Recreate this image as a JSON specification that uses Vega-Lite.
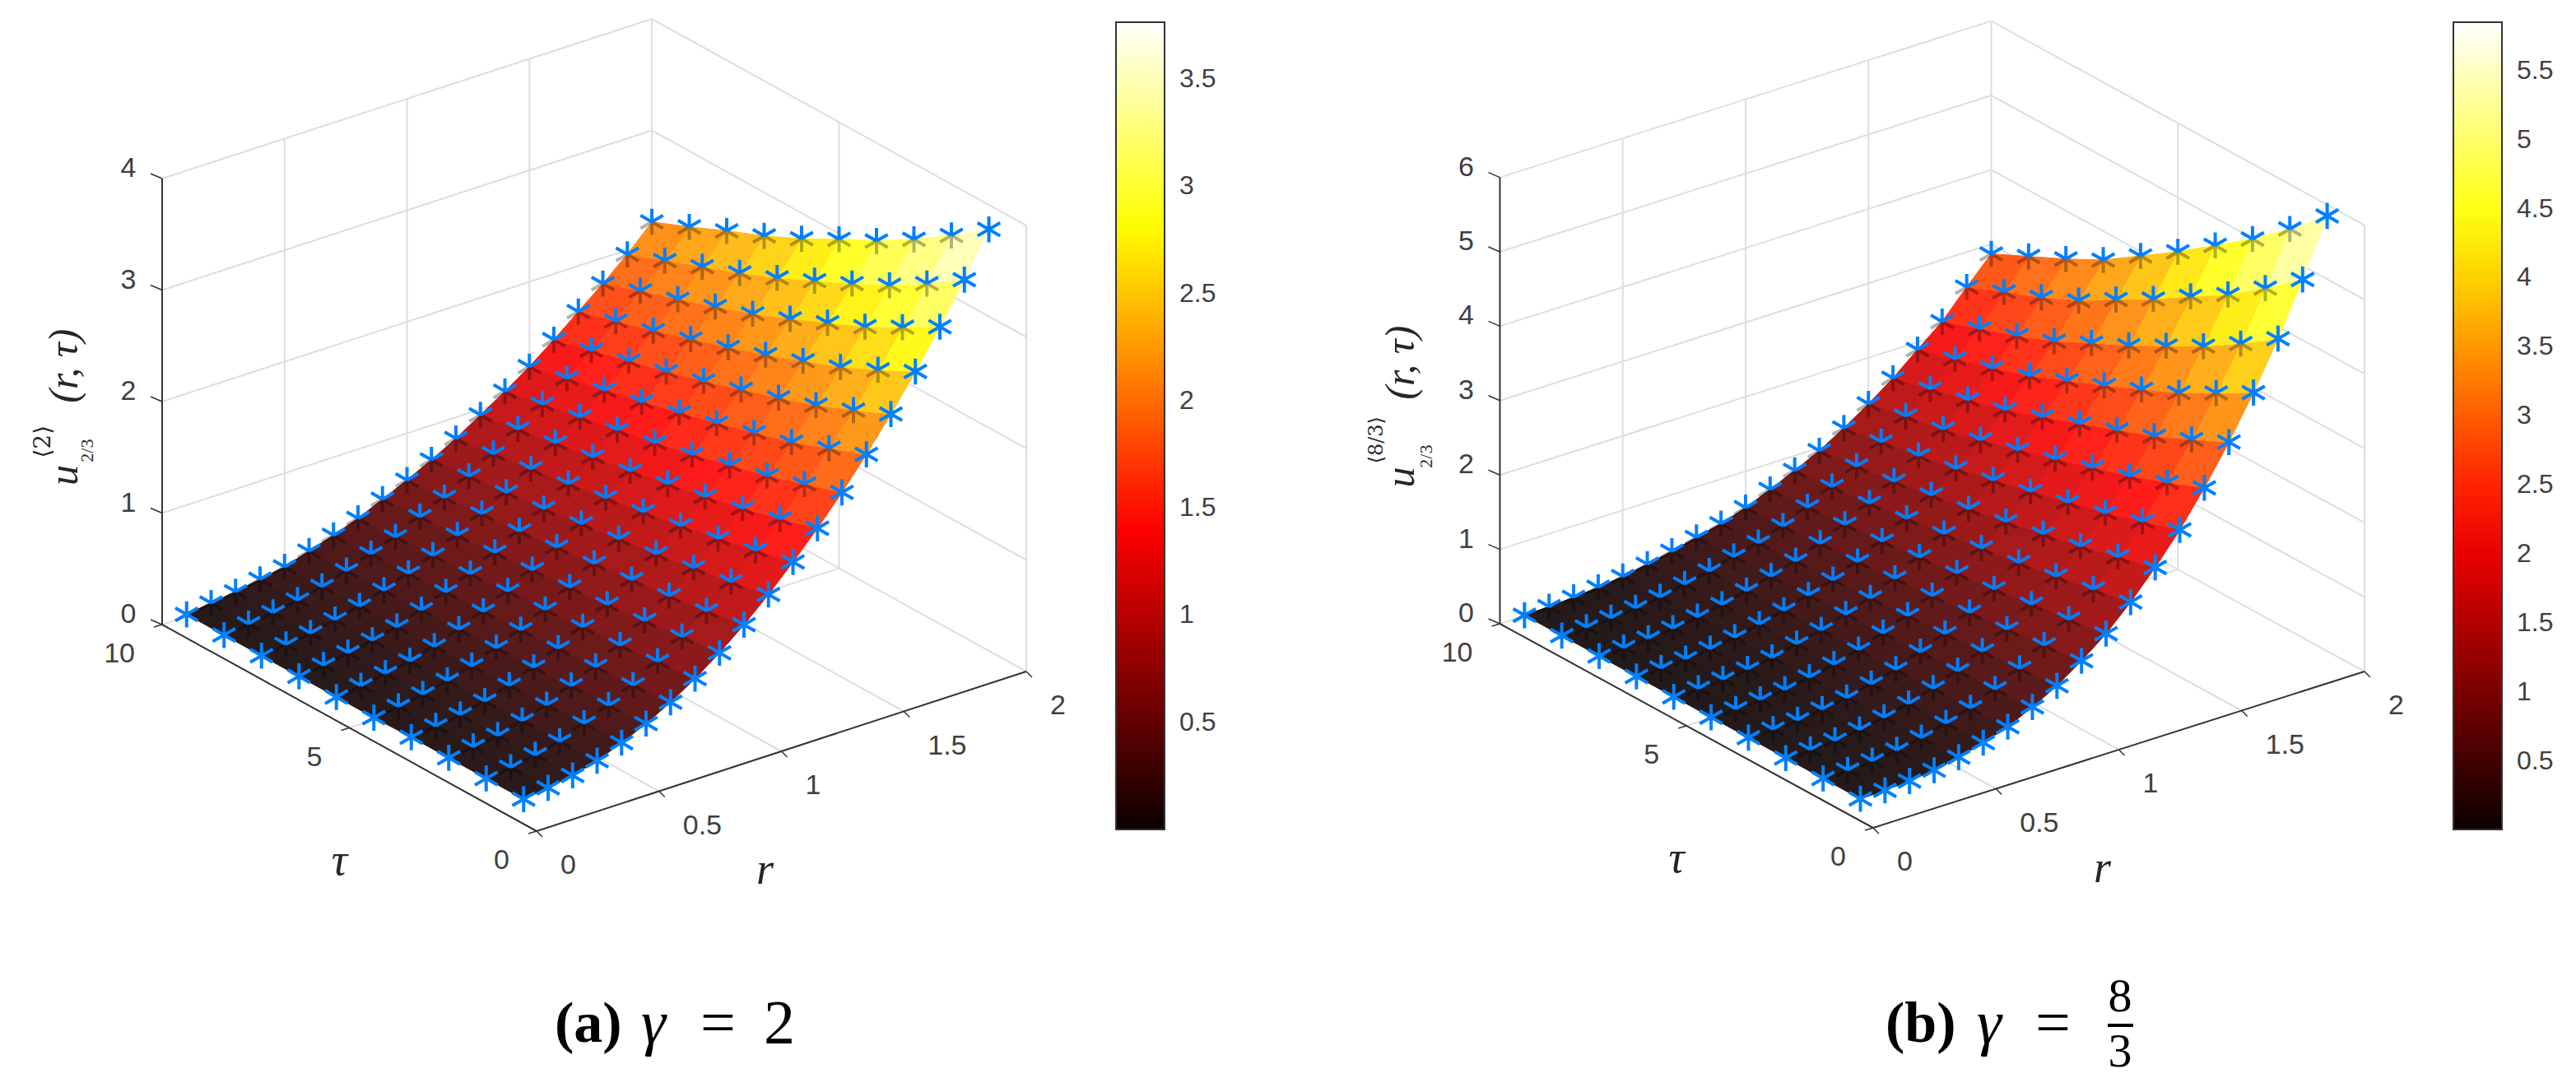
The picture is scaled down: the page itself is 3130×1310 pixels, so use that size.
{"$schema":"https://vega.github.io/schema/vega-lite/v6.json","padding":0,"spacing":0,"background":"white","config":{"view":{"stroke":null}},"resolve":{"scale":{"fill":"independent","stroke":"independent"},"legend":{"fill":"independent"}},"hconcat":[
{"width":1565,"height":1310,
"data":{"values":[
{"r":0.1,"t":1,"u":0.03},{"r":0.1,"t":2,"u":0.03},{"r":0.1,"t":3,"u":0.03},{"r":0.1,"t":4,"u":0.03},{"r":0.1,"t":5,"u":0.02},{"r":0.1,"t":6,"u":0.02},{"r":0.1,"t":7,"u":0.02},{"r":0.1,"t":8,"u":0.02},{"r":0.1,"t":9,"u":0.02},{"r":0.1,"t":10,"u":0.02},
{"r":0.2,"t":1,"u":0.06},{"r":0.2,"t":2,"u":0.06},{"r":0.2,"t":3,"u":0.06},{"r":0.2,"t":4,"u":0.06},{"r":0.2,"t":5,"u":0.05},{"r":0.2,"t":6,"u":0.05},{"r":0.2,"t":7,"u":0.05},{"r":0.2,"t":8,"u":0.05},{"r":0.2,"t":9,"u":0.05},{"r":0.2,"t":10,"u":0.05},
{"r":0.3,"t":1,"u":0.1},{"r":0.3,"t":2,"u":0.1},{"r":0.3,"t":3,"u":0.09},{"r":0.3,"t":4,"u":0.09},{"r":0.3,"t":5,"u":0.09},{"r":0.3,"t":6,"u":0.09},{"r":0.3,"t":7,"u":0.09},{"r":0.3,"t":8,"u":0.08},{"r":0.3,"t":9,"u":0.08},{"r":0.3,"t":10,"u":0.08},
{"r":0.4,"t":1,"u":0.16},{"r":0.4,"t":2,"u":0.15},{"r":0.4,"t":3,"u":0.15},{"r":0.4,"t":4,"u":0.14},{"r":0.4,"t":5,"u":0.14},{"r":0.4,"t":6,"u":0.13},{"r":0.4,"t":7,"u":0.13},{"r":0.4,"t":8,"u":0.13},{"r":0.4,"t":9,"u":0.12},{"r":0.4,"t":10,"u":0.12},
{"r":0.5,"t":1,"u":0.25},{"r":0.5,"t":2,"u":0.24},{"r":0.5,"t":3,"u":0.22},{"r":0.5,"t":4,"u":0.21},{"r":0.5,"t":5,"u":0.2},{"r":0.5,"t":6,"u":0.19},{"r":0.5,"t":7,"u":0.18},{"r":0.5,"t":8,"u":0.18},{"r":0.5,"t":9,"u":0.17},{"r":0.5,"t":10,"u":0.16},
{"r":0.6,"t":1,"u":0.35},{"r":0.6,"t":2,"u":0.33},{"r":0.6,"t":3,"u":0.32},{"r":0.6,"t":4,"u":0.3},{"r":0.6,"t":5,"u":0.29},{"r":0.6,"t":6,"u":0.27},{"r":0.6,"t":7,"u":0.26},{"r":0.6,"t":8,"u":0.25},{"r":0.6,"t":9,"u":0.24},{"r":0.6,"t":10,"u":0.23},
{"r":0.7,"t":1,"u":0.47},{"r":0.7,"t":2,"u":0.44},{"r":0.7,"t":3,"u":0.42},{"r":0.7,"t":4,"u":0.4},{"r":0.7,"t":5,"u":0.38},{"r":0.7,"t":6,"u":0.36},{"r":0.7,"t":7,"u":0.35},{"r":0.7,"t":8,"u":0.33},{"r":0.7,"t":9,"u":0.32},{"r":0.7,"t":10,"u":0.3},
{"r":0.8,"t":1,"u":0.61},{"r":0.8,"t":2,"u":0.58},{"r":0.8,"t":3,"u":0.54},{"r":0.8,"t":4,"u":0.52},{"r":0.8,"t":5,"u":0.49},{"r":0.8,"t":6,"u":0.47},{"r":0.8,"t":7,"u":0.44},{"r":0.8,"t":8,"u":0.42},{"r":0.8,"t":9,"u":0.4},{"r":0.8,"t":10,"u":0.38},
{"r":0.9,"t":1,"u":0.77},{"r":0.9,"t":2,"u":0.73},{"r":0.9,"t":3,"u":0.69},{"r":0.9,"t":4,"u":0.65},{"r":0.9,"t":5,"u":0.62},{"r":0.9,"t":6,"u":0.59},{"r":0.9,"t":7,"u":0.56},{"r":0.9,"t":8,"u":0.53},{"r":0.9,"t":9,"u":0.51},{"r":0.9,"t":10,"u":0.48},
{"r":1.0,"t":1,"u":0.95},{"r":1.0,"t":2,"u":0.89},{"r":1.0,"t":3,"u":0.84},{"r":1.0,"t":4,"u":0.8},{"r":1.0,"t":5,"u":0.76},{"r":1.0,"t":6,"u":0.72},{"r":1.0,"t":7,"u":0.68},{"r":1.0,"t":8,"u":0.65},{"r":1.0,"t":9,"u":0.61},{"r":1.0,"t":10,"u":0.58},
{"r":1.1,"t":1,"u":1.15},{"r":1.1,"t":2,"u":1.08},{"r":1.1,"t":3,"u":1.02},{"r":1.1,"t":4,"u":0.96},{"r":1.1,"t":5,"u":0.91},{"r":1.1,"t":6,"u":0.86},{"r":1.1,"t":7,"u":0.81},{"r":1.1,"t":8,"u":0.77},{"r":1.1,"t":9,"u":0.73},{"r":1.1,"t":10,"u":0.69},
{"r":1.2,"t":1,"u":1.37},{"r":1.2,"t":2,"u":1.29},{"r":1.2,"t":3,"u":1.21},{"r":1.2,"t":4,"u":1.14},{"r":1.2,"t":5,"u":1.08},{"r":1.2,"t":6,"u":1.02},{"r":1.2,"t":7,"u":0.96},{"r":1.2,"t":8,"u":0.91},{"r":1.2,"t":9,"u":0.86},{"r":1.2,"t":10,"u":0.81},
{"r":1.3,"t":1,"u":1.6},{"r":1.3,"t":2,"u":1.5},{"r":1.3,"t":3,"u":1.41},{"r":1.3,"t":4,"u":1.33},{"r":1.3,"t":5,"u":1.26},{"r":1.3,"t":6,"u":1.19},{"r":1.3,"t":7,"u":1.13},{"r":1.3,"t":8,"u":1.07},{"r":1.3,"t":9,"u":1.01},{"r":1.3,"t":10,"u":0.95},
{"r":1.4,"t":1,"u":1.85},{"r":1.4,"t":2,"u":1.74},{"r":1.4,"t":3,"u":1.63},{"r":1.4,"t":4,"u":1.54},{"r":1.4,"t":5,"u":1.45},{"r":1.4,"t":6,"u":1.37},{"r":1.4,"t":7,"u":1.3},{"r":1.4,"t":8,"u":1.23},{"r":1.4,"t":9,"u":1.16},{"r":1.4,"t":10,"u":1.09},
{"r":1.5,"t":1,"u":2.12},{"r":1.5,"t":2,"u":1.99},{"r":1.5,"t":3,"u":1.86},{"r":1.5,"t":4,"u":1.76},{"r":1.5,"t":5,"u":1.66},{"r":1.5,"t":6,"u":1.57},{"r":1.5,"t":7,"u":1.48},{"r":1.5,"t":8,"u":1.4},{"r":1.5,"t":9,"u":1.32},{"r":1.5,"t":10,"u":1.24},
{"r":1.6,"t":1,"u":2.41},{"r":1.6,"t":2,"u":2.26},{"r":1.6,"t":3,"u":2.12},{"r":1.6,"t":4,"u":2.0},{"r":1.6,"t":5,"u":1.89},{"r":1.6,"t":6,"u":1.78},{"r":1.6,"t":7,"u":1.68},{"r":1.6,"t":8,"u":1.59},{"r":1.6,"t":9,"u":1.5},{"r":1.6,"t":10,"u":1.41},
{"r":1.7,"t":1,"u":2.72},{"r":1.7,"t":2,"u":2.55},{"r":1.7,"t":3,"u":2.39},{"r":1.7,"t":4,"u":2.26},{"r":1.7,"t":5,"u":2.13},{"r":1.7,"t":6,"u":2.01},{"r":1.7,"t":7,"u":1.9},{"r":1.7,"t":8,"u":1.79},{"r":1.7,"t":9,"u":1.69},{"r":1.7,"t":10,"u":1.59},
{"r":1.8,"t":1,"u":3.05},{"r":1.8,"t":2,"u":2.86},{"r":1.8,"t":3,"u":2.68},{"r":1.8,"t":4,"u":2.53},{"r":1.8,"t":5,"u":2.38},{"r":1.8,"t":6,"u":2.24},{"r":1.8,"t":7,"u":2.12},{"r":1.8,"t":8,"u":2.0},{"r":1.8,"t":9,"u":1.89},{"r":1.8,"t":10,"u":1.77},
{"r":1.9,"t":1,"u":3.4},{"r":1.9,"t":2,"u":3.18},{"r":1.9,"t":3,"u":2.98},{"r":1.9,"t":4,"u":2.81},{"r":1.9,"t":5,"u":2.65},{"r":1.9,"t":6,"u":2.49},{"r":1.9,"t":7,"u":2.35},{"r":1.9,"t":8,"u":2.22},{"r":1.9,"t":9,"u":2.09},{"r":1.9,"t":10,"u":1.96},
{"r":2.0,"t":1,"u":3.78},{"r":2.0,"t":2,"u":3.54},{"r":2.0,"t":3,"u":3.32},{"r":2.0,"t":4,"u":3.12},{"r":2.0,"t":5,"u":2.95},{"r":2.0,"t":6,"u":2.77},{"r":2.0,"t":7,"u":2.61},{"r":2.0,"t":8,"u":2.47},{"r":2.0,"t":9,"u":2.32},{"r":2.0,"t":10,"u":2.18},
{"k":"g","g":1,"r":0.5,"t":10,"u":0},{"k":"g","g":1,"r":0.5,"t":10,"u":4},{"k":"g","g":2,"r":1,"t":10,"u":0},{"k":"g","g":2,"r":1,"t":10,"u":4},{"k":"g","g":3,"r":1.5,"t":10,"u":0},{"k":"g","g":3,"r":1.5,"t":10,"u":4},{"k":"g","g":4,"r":2,"t":10,"u":0},{"k":"g","g":4,"r":2,"t":10,"u":4},
{"k":"g","g":5,"r":2,"t":0,"u":0},{"k":"g","g":5,"r":2,"t":0,"u":4},{"k":"g","g":6,"r":2,"t":5,"u":0},{"k":"g","g":6,"r":2,"t":5,"u":4},
{"k":"g","g":7,"r":0,"t":10,"u":1},{"k":"g","g":7,"r":2,"t":10,"u":1},{"k":"g","g":8,"r":0,"t":10,"u":2},{"k":"g","g":8,"r":2,"t":10,"u":2},{"k":"g","g":9,"r":0,"t":10,"u":3},{"k":"g","g":9,"r":2,"t":10,"u":3},{"k":"g","g":10,"r":0,"t":10,"u":4},{"k":"g","g":10,"r":2,"t":10,"u":4},
{"k":"g","g":11,"r":2,"t":0,"u":1},{"k":"g","g":11,"r":2,"t":10,"u":1},{"k":"g","g":12,"r":2,"t":0,"u":2},{"k":"g","g":12,"r":2,"t":10,"u":2},{"k":"g","g":13,"r":2,"t":0,"u":3},{"k":"g","g":13,"r":2,"t":10,"u":3},{"k":"g","g":14,"r":2,"t":0,"u":4},{"k":"g","g":14,"r":2,"t":10,"u":4},
{"k":"g","g":15,"r":0.5,"t":0,"u":0},{"k":"g","g":15,"r":0.5,"t":10,"u":0},{"k":"g","g":16,"r":1,"t":0,"u":0},{"k":"g","g":16,"r":1,"t":10,"u":0},{"k":"g","g":17,"r":1.5,"t":0,"u":0},{"k":"g","g":17,"r":1.5,"t":10,"u":0},{"k":"g","g":18,"r":2,"t":0,"u":0},{"k":"g","g":18,"r":2,"t":10,"u":0},{"k":"g","g":19,"r":0,"t":5,"u":0},{"k":"g","g":19,"r":2,"t":5,"u":0},{"k":"g","g":20,"r":0,"t":10,"u":0},{"k":"g","g":20,"r":2,"t":10,"u":0},
{"k":"a","g":1,"r":0,"t":0,"u":0},{"k":"a","g":1,"r":2,"t":0,"u":0},{"k":"a","g":2,"r":0,"t":0,"u":0},{"k":"a","g":2,"r":0,"t":10,"u":0},{"k":"a","g":3,"r":0,"t":10,"u":0},{"k":"a","g":3,"r":0,"t":10,"u":4},
{"k":"lr","r":0,"t":0,"u":0,"label":"0"},{"k":"lr","r":0.5,"t":0,"u":0,"label":"0.5"},{"k":"lr","r":1,"t":0,"u":0,"label":"1"},{"k":"lr","r":1.5,"t":0,"u":0,"label":"1.5"},{"k":"lr","r":2,"t":0,"u":0,"label":"2"},
{"k":"lt","r":0,"t":0,"u":0,"label":"0"},{"k":"lt","r":0,"t":5,"u":0,"label":"5"},{"k":"lt","r":0,"t":10,"u":0,"label":"10"},
{"k":"lz","r":0,"t":10,"u":0,"label":"0"},{"k":"lz","r":0,"t":10,"u":1,"label":"1"},{"k":"lz","r":0,"t":10,"u":2,"label":"2"},{"k":"lz","r":0,"t":10,"u":3,"label":"3"},{"k":"lz","r":0,"t":10,"u":4,"label":"4"},
{"k":"cb","u":0.5},{"k":"cb","u":1},{"k":"cb","u":1.5},{"k":"cb","u":2},{"k":"cb","u":2.5},{"k":"cb","u":3},{"k":"cb","u":3.5},
{"k":"tr","r":1,"t":0,"u":0,"label":"r"},{"k":"tt","r":0,"t":5,"u":0,"label":"τ"},
{"k":"y1","r":0,"t":10,"u":1.34,"label":"u"},{"k":"y1","r":0,"t":10,"u":2.32,"label":"(r,  τ)"},{"k":"y2","r":0,"t":10,"u":1.64,"label":"⟨2⟩"},{"k":"y3","r":0,"t":10,"u":1.56,"label":"2/3"}
]},
"transform":[{"calculate":"652+297.5*datum.r-45.5*datum.t","as":"px"},{"calculate":"1010-97*datum.r-25.1*datum.t-135.5*datum.u","as":"py"}],
"encoding":{"x":{"field":"px","type":"quantitative","axis":null,"scale":{"domain":[0,1565],"nice":false,"zero":false}},"y":{"field":"py","type":"quantitative","axis":null,"scale":{"domain":[1310,0],"nice":false,"zero":false}}},
"layer":[
{"transform":[{"filter":"datum.k=='g'"}],"mark":{"type":"line","stroke":"#dedede","strokeWidth":2},"encoding":{"detail":{"field":"g"}}},
{"transform":[{"filter":"datum.k=='a'"}],"mark":{"type":"line","stroke":"#333333","strokeWidth":2},"encoding":{"detail":{"field":"g"}}},
{"transform":[{"filter":"datum.k=='lr'||datum.k=='lt'||datum.k=='lz'"},{"calculate":"datum.px+(datum.k=='lz'?-14:datum.k=='lr'?7:-10)","as":"x2"},{"calculate":"datum.py+(datum.k=='lz'?-6:datum.k=='lr'?7:3)","as":"y2"}],"mark":{"type":"rule","stroke":"#333333","strokeWidth":1.5},"encoding":{"x2":{"field":"x2"},"y2":{"field":"y2"}}},
{"transform":[{"filter":"!datum.k"},{"calculate":"round(datum.r*10)","as":"i"},{"calculate":"[datum.i*100+datum.t,(datum.i-1)*100+datum.t,(datum.i-1)*100+datum.t-1,datum.i*100+datum.t-1]","as":"cell"},{"calculate":"[0,1,2,3]","as":"o"},{"flatten":["cell","o"]},{"filter":"datum.cell>=101&&datum.cell<2000&&datum.cell%100>=1&&datum.cell%100<=9"},{"joinaggregate":[{"op":"mean","field":"u","as":"cu"}],"groupby":["cell"]}],
"layer":[
{"mark":{"type":"line","strokeWidth":1,"interpolate":"linear-closed"},"encoding":{"detail":{"field":"cell"},"order":{"field":"o"},"fill":{"field":"cu","type":"quantitative","scale":{"domain":[0,1.41,2.82,3.765],"range":["#0b0000","#ff0000","#ffff00","#ffffff"],"interpolate":"rgb"},"legend":{"type":"gradient","title":null,"orient":"none","legendX":1356,"legendY":27,"gradientLength":981,"gradientThickness":59,"gradientStrokeColor":"#333333","gradientStrokeWidth":2,"labelFont":"Liberation Sans","labelFontSize":32,"labelColor":"#404040","labelOffset":18,"labelOverlap":false,"values":[0.5,1,1.5,2,2.5,3,3.5],"labelExpr":"''+datum.value"}},"stroke":{"field":"cu","type":"quantitative","scale":{"domain":[0,1.41,2.82,3.7651],"range":["#0b0000","#ff0000","#ffff00","#ffffff"],"interpolate":"rgb"},"legend":null}}},
{"mark":{"type":"line","fill":"#ffffff","fillOpacity":0.1,"strokeWidth":0,"interpolate":"linear-closed"},"encoding":{"detail":{"field":"cell"},"order":{"field":"o"}}}
]},
{"transform":[{"filter":"!datum.k&&(datum.r==0.1||datum.t==1)"}],"mark":{"type":"point","shape":"M0,-1L0,1M-0.87,-0.5L0.87,0.5M-0.87,0.5L0.87,-0.5","size":1000,"filled":false,"stroke":"#007fff","strokeWidth":4,"opacity":1}},
{"transform":[{"filter":"!datum.k&&datum.r!=0.1&&datum.t!=1"}],"mark":{"type":"point","shape":"M0,0L0,1M0,0L-0.87,0.5M0,0L0.87,0.5","size":1000,"filled":false,"stroke":"#000000","strokeWidth":4,"opacity":0.3}},
{"transform":[{"filter":"!datum.k&&datum.r!=0.1&&datum.t!=1"}],"mark":{"type":"point","shape":"M0,0L0,-1M0,0L-0.87,-0.5M0,0L0.87,-0.5","size":1000,"filled":false,"stroke":"#007fff","strokeWidth":4,"opacity":1}},
{"transform":[{"filter":"datum.k=='cb'"},{"calculate":"1415","as":"px"},{"calculate":"27+(3.765-datum.u)/3.765*981","as":"py"},{"calculate":"1407","as":"x2"}],"mark":{"type":"rule","stroke":"#333333","strokeWidth":2},"encoding":{"x2":{"field":"x2"}}},
{"transform":[{"filter":"datum.k=='lr'"}],"mark":{"type":"text","font":"Liberation Sans","fontSize":34,"fill":"#404040","align":"left","baseline":"middle","dx":29,"dy":42},"encoding":{"text":{"field":"label"}}},
{"transform":[{"filter":"datum.k=='lt'"}],"mark":{"type":"text","font":"Liberation Sans","fontSize":34,"fill":"#404040","align":"right","baseline":"middle","dx":-33,"dy":36},"encoding":{"text":{"field":"label"}}},
{"transform":[{"filter":"datum.k=='lz'"}],"mark":{"type":"text","font":"Liberation Sans","fontSize":34,"fill":"#404040","align":"center","baseline":"middle","dx":-41,"dy":-12},"encoding":{"text":{"field":"label"}}},
{"transform":[{"filter":"datum.k=='tr'"}],"mark":{"type":"text","font":"Liberation Serif","fontStyle":"italic","fontSize":54,"fill":"#262626","align":"center","baseline":"middle","dx":-20,"dy":145},"encoding":{"text":{"field":"label"}}},
{"transform":[{"filter":"datum.k=='tt'"}],"mark":{"type":"text","font":"Liberation Serif","fontStyle":"italic","fontSize":54,"fill":"#262626","align":"center","baseline":"middle","dx":-12,"dy":162},"encoding":{"text":{"field":"label"}}},
{"transform":[{"filter":"datum.k=='y1'"}],"mark":{"type":"text","font":"Liberation Serif","fontStyle":"italic","fontSize":50,"fill":"#262626","align":"center","baseline":"middle","angle":270,"dy":-118},"encoding":{"text":{"field":"label"}}},
{"transform":[{"filter":"datum.k=='y2'"}],"mark":{"type":"text","font":"DejaVu Serif","fontSize":28,"fill":"#262626","align":"center","baseline":"middle","angle":270,"dy":-144},"encoding":{"text":{"field":"label"}}},
{"transform":[{"filter":"datum.k=='y3'"}],"mark":{"type":"text","font":"Liberation Serif","fontSize":22,"fill":"#262626","align":"center","baseline":"middle","angle":270,"dy":-91},"encoding":{"text":{"field":"label"}}},
{"data":{"values":[{}]},"mark":{"type":"text","text":"(a)","x":674,"y":1245,"font":"Liberation Serif","fontWeight":"bold","fontSize":70,"fill":"#000000","align":"left","baseline":"middle"},"encoding":{"x":null,"y":null}},
{"data":{"values":[{}]},"mark":{"type":"text","text":"γ","x":779,"y":1245,"font":"Liberation Serif","fontStyle":"italic","fontSize":76,"fill":"#000000","align":"left","baseline":"middle"},"encoding":{"x":null,"y":null}},
{"data":{"values":[{}]},"mark":{"type":"text","text":"=","x":851,"y":1245,"font":"Liberation Serif","fontSize":76,"fill":"#000000","align":"left","baseline":"middle"},"encoding":{"x":null,"y":null}},
{"data":{"values":[{}]},"mark":{"type":"text","text":"2","x":928,"y":1245,"font":"Liberation Serif","fontSize":76,"fill":"#000000","align":"left","baseline":"middle"},"encoding":{"x":null,"y":null}}
]},
{"width":1565,"height":1310,
"data":{"values":[
{"r":0.1,"t":1,"u":0.01},{"r":0.1,"t":2,"u":0.01},{"r":0.1,"t":3,"u":0.01},{"r":0.1,"t":4,"u":0.01},{"r":0.1,"t":5,"u":0.01},{"r":0.1,"t":6,"u":0.01},{"r":0.1,"t":7,"u":0.01},{"r":0.1,"t":8,"u":0.01},{"r":0.1,"t":9,"u":0.01},{"r":0.1,"t":10,"u":0.01},
{"r":0.2,"t":1,"u":0.02},{"r":0.2,"t":2,"u":0.02},{"r":0.2,"t":3,"u":0.02},{"r":0.2,"t":4,"u":0.02},{"r":0.2,"t":5,"u":0.02},{"r":0.2,"t":6,"u":0.02},{"r":0.2,"t":7,"u":0.02},{"r":0.2,"t":8,"u":0.02},{"r":0.2,"t":9,"u":0.02},{"r":0.2,"t":10,"u":0.02},
{"r":0.3,"t":1,"u":0.04},{"r":0.3,"t":2,"u":0.04},{"r":0.3,"t":3,"u":0.04},{"r":0.3,"t":4,"u":0.04},{"r":0.3,"t":5,"u":0.04},{"r":0.3,"t":6,"u":0.04},{"r":0.3,"t":7,"u":0.04},{"r":0.3,"t":8,"u":0.04},{"r":0.3,"t":9,"u":0.04},{"r":0.3,"t":10,"u":0.04},
{"r":0.4,"t":1,"u":0.08},{"r":0.4,"t":2,"u":0.08},{"r":0.4,"t":3,"u":0.08},{"r":0.4,"t":4,"u":0.08},{"r":0.4,"t":5,"u":0.07},{"r":0.4,"t":6,"u":0.07},{"r":0.4,"t":7,"u":0.07},{"r":0.4,"t":8,"u":0.07},{"r":0.4,"t":9,"u":0.07},{"r":0.4,"t":10,"u":0.07},
{"r":0.5,"t":1,"u":0.15},{"r":0.5,"t":2,"u":0.14},{"r":0.5,"t":3,"u":0.14},{"r":0.5,"t":4,"u":0.13},{"r":0.5,"t":5,"u":0.13},{"r":0.5,"t":6,"u":0.12},{"r":0.5,"t":7,"u":0.12},{"r":0.5,"t":8,"u":0.12},{"r":0.5,"t":9,"u":0.11},{"r":0.5,"t":10,"u":0.11},
{"r":0.6,"t":1,"u":0.24},{"r":0.6,"t":2,"u":0.23},{"r":0.6,"t":3,"u":0.22},{"r":0.6,"t":4,"u":0.21},{"r":0.6,"t":5,"u":0.2},{"r":0.6,"t":6,"u":0.2},{"r":0.6,"t":7,"u":0.19},{"r":0.6,"t":8,"u":0.18},{"r":0.6,"t":9,"u":0.18},{"r":0.6,"t":10,"u":0.17},
{"r":0.7,"t":1,"u":0.35},{"r":0.7,"t":2,"u":0.33},{"r":0.7,"t":3,"u":0.32},{"r":0.7,"t":4,"u":0.3},{"r":0.7,"t":5,"u":0.29},{"r":0.7,"t":6,"u":0.28},{"r":0.7,"t":7,"u":0.27},{"r":0.7,"t":8,"u":0.26},{"r":0.7,"t":9,"u":0.25},{"r":0.7,"t":10,"u":0.24},
{"r":0.8,"t":1,"u":0.51},{"r":0.8,"t":2,"u":0.48},{"r":0.8,"t":3,"u":0.45},{"r":0.8,"t":4,"u":0.43},{"r":0.8,"t":5,"u":0.41},{"r":0.8,"t":6,"u":0.39},{"r":0.8,"t":7,"u":0.37},{"r":0.8,"t":8,"u":0.35},{"r":0.8,"t":9,"u":0.34},{"r":0.8,"t":10,"u":0.32},
{"r":0.9,"t":1,"u":0.69},{"r":0.9,"t":2,"u":0.65},{"r":0.9,"t":3,"u":0.61},{"r":0.9,"t":4,"u":0.57},{"r":0.9,"t":5,"u":0.54},{"r":0.9,"t":6,"u":0.5},{"r":0.9,"t":7,"u":0.47},{"r":0.9,"t":8,"u":0.45},{"r":0.9,"t":9,"u":0.42},{"r":0.9,"t":10,"u":0.4},
{"r":1.0,"t":1,"u":0.92},{"r":1.0,"t":2,"u":0.86},{"r":1.0,"t":3,"u":0.8},{"r":1.0,"t":4,"u":0.75},{"r":1.0,"t":5,"u":0.7},{"r":1.0,"t":6,"u":0.66},{"r":1.0,"t":7,"u":0.61},{"r":1.0,"t":8,"u":0.58},{"r":1.0,"t":9,"u":0.54},{"r":1.0,"t":10,"u":0.51},
{"r":1.1,"t":1,"u":1.18},{"r":1.1,"t":2,"u":1.1},{"r":1.1,"t":3,"u":1.03},{"r":1.1,"t":4,"u":0.96},{"r":1.1,"t":5,"u":0.9},{"r":1.1,"t":6,"u":0.84},{"r":1.1,"t":7,"u":0.78},{"r":1.1,"t":8,"u":0.73},{"r":1.1,"t":9,"u":0.69},{"r":1.1,"t":10,"u":0.65},
{"r":1.2,"t":1,"u":1.5},{"r":1.2,"t":2,"u":1.4},{"r":1.2,"t":3,"u":1.3},{"r":1.2,"t":4,"u":1.21},{"r":1.2,"t":5,"u":1.13},{"r":1.2,"t":6,"u":1.05},{"r":1.2,"t":7,"u":0.98},{"r":1.2,"t":8,"u":0.91},{"r":1.2,"t":9,"u":0.86},{"r":1.2,"t":10,"u":0.8},
{"r":1.3,"t":1,"u":1.86},{"r":1.3,"t":2,"u":1.73},{"r":1.3,"t":3,"u":1.6},{"r":1.3,"t":4,"u":1.49},{"r":1.3,"t":5,"u":1.38},{"r":1.3,"t":6,"u":1.28},{"r":1.3,"t":7,"u":1.19},{"r":1.3,"t":8,"u":1.1},{"r":1.3,"t":9,"u":1.03},{"r":1.3,"t":10,"u":0.96},
{"r":1.4,"t":1,"u":2.26},{"r":1.4,"t":2,"u":2.1},{"r":1.4,"t":3,"u":1.94},{"r":1.4,"t":4,"u":1.81},{"r":1.4,"t":5,"u":1.68},{"r":1.4,"t":6,"u":1.56},{"r":1.4,"t":7,"u":1.44},{"r":1.4,"t":8,"u":1.34},{"r":1.4,"t":9,"u":1.25},{"r":1.4,"t":10,"u":1.16},
{"r":1.5,"t":1,"u":2.72},{"r":1.5,"t":2,"u":2.52},{"r":1.5,"t":3,"u":2.33},{"r":1.5,"t":4,"u":2.17},{"r":1.5,"t":5,"u":2.01},{"r":1.5,"t":6,"u":1.86},{"r":1.5,"t":7,"u":1.72},{"r":1.5,"t":8,"u":1.59},{"r":1.5,"t":9,"u":1.49},{"r":1.5,"t":10,"u":1.38},
{"r":1.6,"t":1,"u":3.23},{"r":1.6,"t":2,"u":2.99},{"r":1.6,"t":3,"u":2.76},{"r":1.6,"t":4,"u":2.57},{"r":1.6,"t":5,"u":2.38},{"r":1.6,"t":6,"u":2.2},{"r":1.6,"t":7,"u":2.02},{"r":1.6,"t":8,"u":1.88},{"r":1.6,"t":9,"u":1.75},{"r":1.6,"t":10,"u":1.62},
{"r":1.7,"t":1,"u":3.79},{"r":1.7,"t":2,"u":3.51},{"r":1.7,"t":3,"u":3.24},{"r":1.7,"t":4,"u":3.01},{"r":1.7,"t":5,"u":2.79},{"r":1.7,"t":6,"u":2.58},{"r":1.7,"t":7,"u":2.37},{"r":1.7,"t":8,"u":2.2},{"r":1.7,"t":9,"u":2.05},{"r":1.7,"t":10,"u":1.9},
{"r":1.8,"t":1,"u":4.41},{"r":1.8,"t":2,"u":4.07},{"r":1.8,"t":3,"u":3.76},{"r":1.8,"t":4,"u":3.49},{"r":1.8,"t":5,"u":3.22},{"r":1.8,"t":6,"u":2.98},{"r":1.8,"t":7,"u":2.73},{"r":1.8,"t":8,"u":2.53},{"r":1.8,"t":9,"u":2.35},{"r":1.8,"t":10,"u":2.17},
{"r":1.9,"t":1,"u":5.1},{"r":1.9,"t":2,"u":4.71},{"r":1.9,"t":3,"u":4.35},{"r":1.9,"t":4,"u":4.05},{"r":1.9,"t":5,"u":3.74},{"r":1.9,"t":6,"u":3.46},{"r":1.9,"t":7,"u":3.17},{"r":1.9,"t":8,"u":2.94},{"r":1.9,"t":9,"u":2.74},{"r":1.9,"t":10,"u":2.53},
{"r":2.0,"t":1,"u":5.85},{"r":2.0,"t":2,"u":5.4},{"r":2.0,"t":3,"u":4.99},{"r":2.0,"t":4,"u":4.63},{"r":2.0,"t":5,"u":4.27},{"r":2.0,"t":6,"u":3.94},{"r":2.0,"t":7,"u":3.61},{"r":2.0,"t":8,"u":3.35},{"r":2.0,"t":9,"u":3.11},{"r":2.0,"t":10,"u":2.87},
{"k":"g","g":1,"r":0.5,"t":10,"u":0},{"k":"g","g":1,"r":0.5,"t":10,"u":6},{"k":"g","g":2,"r":1,"t":10,"u":0},{"k":"g","g":2,"r":1,"t":10,"u":6},{"k":"g","g":3,"r":1.5,"t":10,"u":0},{"k":"g","g":3,"r":1.5,"t":10,"u":6},{"k":"g","g":4,"r":2,"t":10,"u":0},{"k":"g","g":4,"r":2,"t":10,"u":6},
{"k":"g","g":5,"r":2,"t":0,"u":0},{"k":"g","g":5,"r":2,"t":0,"u":6},{"k":"g","g":6,"r":2,"t":5,"u":0},{"k":"g","g":6,"r":2,"t":5,"u":6},
{"k":"g","g":7,"r":0,"t":10,"u":1},{"k":"g","g":7,"r":2,"t":10,"u":1},{"k":"g","g":8,"r":0,"t":10,"u":2},{"k":"g","g":8,"r":2,"t":10,"u":2},{"k":"g","g":9,"r":0,"t":10,"u":3},{"k":"g","g":9,"r":2,"t":10,"u":3},{"k":"g","g":10,"r":0,"t":10,"u":4},{"k":"g","g":10,"r":2,"t":10,"u":4},{"k":"g","g":21,"r":0,"t":10,"u":5},{"k":"g","g":21,"r":2,"t":10,"u":5},{"k":"g","g":22,"r":0,"t":10,"u":6},{"k":"g","g":22,"r":2,"t":10,"u":6},
{"k":"g","g":11,"r":2,"t":0,"u":1},{"k":"g","g":11,"r":2,"t":10,"u":1},{"k":"g","g":12,"r":2,"t":0,"u":2},{"k":"g","g":12,"r":2,"t":10,"u":2},{"k":"g","g":13,"r":2,"t":0,"u":3},{"k":"g","g":13,"r":2,"t":10,"u":3},{"k":"g","g":14,"r":2,"t":0,"u":4},{"k":"g","g":14,"r":2,"t":10,"u":4},{"k":"g","g":23,"r":2,"t":0,"u":5},{"k":"g","g":23,"r":2,"t":10,"u":5},{"k":"g","g":24,"r":2,"t":0,"u":6},{"k":"g","g":24,"r":2,"t":10,"u":6},
{"k":"g","g":15,"r":0.5,"t":0,"u":0},{"k":"g","g":15,"r":0.5,"t":10,"u":0},{"k":"g","g":16,"r":1,"t":0,"u":0},{"k":"g","g":16,"r":1,"t":10,"u":0},{"k":"g","g":17,"r":1.5,"t":0,"u":0},{"k":"g","g":17,"r":1.5,"t":10,"u":0},{"k":"g","g":18,"r":2,"t":0,"u":0},{"k":"g","g":18,"r":2,"t":10,"u":0},{"k":"g","g":19,"r":0,"t":5,"u":0},{"k":"g","g":19,"r":2,"t":5,"u":0},{"k":"g","g":20,"r":0,"t":10,"u":0},{"k":"g","g":20,"r":2,"t":10,"u":0},
{"k":"a","g":1,"r":0,"t":0,"u":0},{"k":"a","g":1,"r":2,"t":0,"u":0},{"k":"a","g":2,"r":0,"t":0,"u":0},{"k":"a","g":2,"r":0,"t":10,"u":0},{"k":"a","g":3,"r":0,"t":10,"u":0},{"k":"a","g":3,"r":0,"t":10,"u":6},
{"k":"lr","r":0,"t":0,"u":0,"label":"0"},{"k":"lr","r":0.5,"t":0,"u":0,"label":"0.5"},{"k":"lr","r":1,"t":0,"u":0,"label":"1"},{"k":"lr","r":1.5,"t":0,"u":0,"label":"1.5"},{"k":"lr","r":2,"t":0,"u":0,"label":"2"},
{"k":"lt","r":0,"t":0,"u":0,"label":"0"},{"k":"lt","r":0,"t":5,"u":0,"label":"5"},{"k":"lt","r":0,"t":10,"u":0,"label":"10"},
{"k":"lz","r":0,"t":10,"u":0,"label":"0"},{"k":"lz","r":0,"t":10,"u":1,"label":"1"},{"k":"lz","r":0,"t":10,"u":2,"label":"2"},{"k":"lz","r":0,"t":10,"u":3,"label":"3"},{"k":"lz","r":0,"t":10,"u":4,"label":"4"},{"k":"lz","r":0,"t":10,"u":5,"label":"5"},{"k":"lz","r":0,"t":10,"u":6,"label":"6"},
{"k":"cb","u":0.5},{"k":"cb","u":1},{"k":"cb","u":1.5},{"k":"cb","u":2},{"k":"cb","u":2.5},{"k":"cb","u":3},{"k":"cb","u":3.5},{"k":"cb","u":4},{"k":"cb","u":4.5},{"k":"cb","u":5},{"k":"cb","u":5.5},
{"k":"tr","r":1,"t":0,"u":0,"label":"r"},{"k":"tt","r":0,"t":5,"u":0,"label":"τ"},
{"k":"y1","r":0,"t":10,"u":1.97,"label":"u"},{"k":"y1","r":0,"t":10,"u":3.51,"label":"(r,  τ)"},{"k":"y2","r":0,"t":10,"u":2.47,"label":"⟨8/3⟩"},{"k":"y3","r":0,"t":10,"u":2.25,"label":"2/3"}
]},
"transform":[{"calculate":"711+298.5*datum.r-45.35*datum.t","as":"px"},{"calculate":"1006-95*datum.r-24.8*datum.t-90.4*datum.u","as":"py"}],
"encoding":{"x":{"field":"px","type":"quantitative","axis":null,"scale":{"domain":[0,1565],"nice":false,"zero":false}},"y":{"field":"py","type":"quantitative","axis":null,"scale":{"domain":[1310,0],"nice":false,"zero":false}}},
"layer":[
{"transform":[{"filter":"datum.k=='g'"}],"mark":{"type":"line","stroke":"#dedede","strokeWidth":2},"encoding":{"detail":{"field":"g"}}},
{"transform":[{"filter":"datum.k=='a'"}],"mark":{"type":"line","stroke":"#333333","strokeWidth":2},"encoding":{"detail":{"field":"g"}}},
{"transform":[{"filter":"datum.k=='lr'||datum.k=='lt'||datum.k=='lz'"},{"calculate":"datum.px+(datum.k=='lz'?-14:datum.k=='lr'?7:-10)","as":"x2"},{"calculate":"datum.py+(datum.k=='lz'?-6:datum.k=='lr'?7:3)","as":"y2"}],"mark":{"type":"rule","stroke":"#333333","strokeWidth":1.5},"encoding":{"x2":{"field":"x2"},"y2":{"field":"y2"}}},
{"transform":[{"filter":"!datum.k"},{"calculate":"round(datum.r*10)","as":"i"},{"calculate":"[datum.i*100+datum.t,(datum.i-1)*100+datum.t,(datum.i-1)*100+datum.t-1,datum.i*100+datum.t-1]","as":"cell"},{"calculate":"[0,1,2,3]","as":"o"},{"flatten":["cell","o"]},{"filter":"datum.cell>=101&&datum.cell<2000&&datum.cell%100>=1&&datum.cell%100<=9"},{"joinaggregate":[{"op":"mean","field":"u","as":"cu"}],"groupby":["cell"]}],
"layer":[
{"mark":{"type":"line","strokeWidth":1,"interpolate":"linear-closed"},"encoding":{"detail":{"field":"cell"},"order":{"field":"o"},"fill":{"field":"cu","type":"quantitative","scale":{"domain":[0.005,2.2,4.39,5.85],"range":["#0b0000","#ff0000","#ffff00","#ffffff"],"interpolate":"rgb"},"legend":{"type":"gradient","title":null,"orient":"none","legendX":1416,"legendY":27,"gradientLength":981,"gradientThickness":59,"gradientStrokeColor":"#333333","gradientStrokeWidth":2,"labelFont":"Liberation Sans","labelFontSize":32,"labelColor":"#404040","labelOffset":18,"labelOverlap":false,"values":[0.5,1,1.5,2,2.5,3,3.5,4,4.5,5,5.5],"labelExpr":"''+datum.value"}},"stroke":{"field":"cu","type":"quantitative","scale":{"domain":[0.005,2.2,4.39,5.8501],"range":["#0b0000","#ff0000","#ffff00","#ffffff"],"interpolate":"rgb"},"legend":null}}},
{"mark":{"type":"line","fill":"#ffffff","fillOpacity":0.1,"strokeWidth":0,"interpolate":"linear-closed"},"encoding":{"detail":{"field":"cell"},"order":{"field":"o"}}}
]},
{"transform":[{"filter":"!datum.k&&(datum.r==0.1||datum.t==1)"}],"mark":{"type":"point","shape":"M0,-1L0,1M-0.87,-0.5L0.87,0.5M-0.87,0.5L0.87,-0.5","size":1000,"filled":false,"stroke":"#007fff","strokeWidth":4,"opacity":1}},
{"transform":[{"filter":"!datum.k&&datum.r!=0.1&&datum.t!=1"}],"mark":{"type":"point","shape":"M0,0L0,1M0,0L-0.87,0.5M0,0L0.87,0.5","size":1000,"filled":false,"stroke":"#000000","strokeWidth":4,"opacity":0.3}},
{"transform":[{"filter":"!datum.k&&datum.r!=0.1&&datum.t!=1"}],"mark":{"type":"point","shape":"M0,0L0,-1M0,0L-0.87,-0.5M0,0L0.87,-0.5","size":1000,"filled":false,"stroke":"#007fff","strokeWidth":4,"opacity":1}},
{"transform":[{"filter":"datum.k=='cb'"},{"calculate":"1475","as":"px"},{"calculate":"27+(5.85-datum.u)/5.845*981","as":"py"},{"calculate":"1467","as":"x2"}],"mark":{"type":"rule","stroke":"#333333","strokeWidth":2},"encoding":{"x2":{"field":"x2"}}},
{"transform":[{"filter":"datum.k=='lr'"}],"mark":{"type":"text","font":"Liberation Sans","fontSize":34,"fill":"#404040","align":"left","baseline":"middle","dx":29,"dy":42},"encoding":{"text":{"field":"label"}}},
{"transform":[{"filter":"datum.k=='lt'"}],"mark":{"type":"text","font":"Liberation Sans","fontSize":34,"fill":"#404040","align":"right","baseline":"middle","dx":-33,"dy":36},"encoding":{"text":{"field":"label"}}},
{"transform":[{"filter":"datum.k=='lz'"}],"mark":{"type":"text","font":"Liberation Sans","fontSize":34,"fill":"#404040","align":"center","baseline":"middle","dx":-41,"dy":-12},"encoding":{"text":{"field":"label"}}},
{"transform":[{"filter":"datum.k=='tr'"}],"mark":{"type":"text","font":"Liberation Serif","fontStyle":"italic","fontSize":54,"fill":"#262626","align":"center","baseline":"middle","dx":-20,"dy":145},"encoding":{"text":{"field":"label"}}},
{"transform":[{"filter":"datum.k=='tt'"}],"mark":{"type":"text","font":"Liberation Serif","fontStyle":"italic","fontSize":54,"fill":"#262626","align":"center","baseline":"middle","dx":-12,"dy":162},"encoding":{"text":{"field":"label"}}},
{"transform":[{"filter":"datum.k=='y1'"}],"mark":{"type":"text","font":"Liberation Serif","fontStyle":"italic","fontSize":50,"fill":"#262626","align":"center","baseline":"middle","angle":270,"dy":-120},"encoding":{"text":{"field":"label"}}},
{"transform":[{"filter":"datum.k=='y2'"}],"mark":{"type":"text","font":"DejaVu Serif","fontSize":24,"fill":"#262626","align":"center","baseline":"middle","angle":270,"dy":-150},"encoding":{"text":{"field":"label"}}},
{"transform":[{"filter":"datum.k=='y3'"}],"mark":{"type":"text","font":"Liberation Serif","fontSize":22,"fill":"#262626","align":"center","baseline":"middle","angle":270,"dy":-90},"encoding":{"text":{"field":"label"}}},
{"data":{"values":[{}]},"mark":{"type":"text","text":"(b)","x":726,"y":1245,"font":"Liberation Serif","fontWeight":"bold","fontSize":70,"fill":"#000000","align":"left","baseline":"middle"},"encoding":{"x":null,"y":null}},
{"data":{"values":[{}]},"mark":{"type":"text","text":"γ","x":837,"y":1245,"font":"Liberation Serif","fontStyle":"italic","fontSize":76,"fill":"#000000","align":"left","baseline":"middle"},"encoding":{"x":null,"y":null}},
{"data":{"values":[{}]},"mark":{"type":"text","text":"=","x":908,"y":1245,"font":"Liberation Serif","fontSize":76,"fill":"#000000","align":"left","baseline":"middle"},"encoding":{"x":null,"y":null}},
{"data":{"values":[{}]},"mark":{"type":"text","text":"8","x":1011,"y":1212,"font":"Liberation Serif","fontSize":58,"fill":"#000000","align":"center","baseline":"middle"},"encoding":{"x":null,"y":null}},
{"data":{"values":[{}]},"mark":{"type":"text","text":"3","x":1011,"y":1279,"font":"Liberation Serif","fontSize":58,"fill":"#000000","align":"center","baseline":"middle"},"encoding":{"x":null,"y":null}},
{"data":{"values":[{}]},"mark":{"type":"rule","stroke":"#000000","strokeWidth":4},"encoding":{"x":{"value":996},"x2":{"value":1027},"y":{"value":1246}}}
]}
]}
